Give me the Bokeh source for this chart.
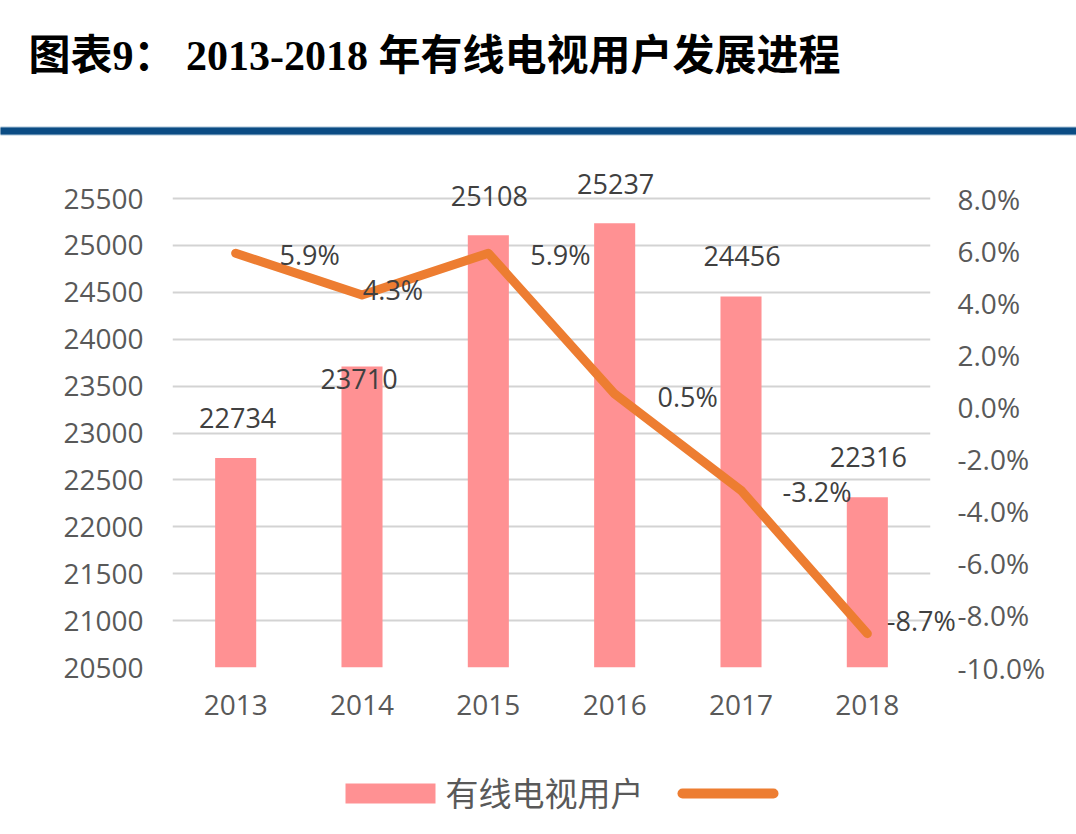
from bokeh.plotting import figure
from bokeh.models import (ColumnDataSource, Range1d, FactorRange, LinearAxis, FixedTicker,
                          PrintfTickFormatter, NumeralTickFormatter)
from bokeh.core.properties import value
from bokeh.embed import file_html
from bokeh.resources import INLINE

# ---- data -------------------------------------------------------------
years = ["2013", "2014", "2015", "2016", "2017", "2018"]
users = [22734, 23710, 25108, 25237, 24456, 22316]          # 有线电视用户 (万户)
growth = [5.9, 4.3, 5.9, 0.5, -3.2, -8.7]                    # 同比增速 (%)

user_ticks = [20500, 21000, 21500, 22000, 22500, 23000, 23500, 24000, 24500, 25000, 25500]
growth_ticks = [-10, -8, -6, -4, -2, 0, 2, 4, 6, 8]

title_text = "图表9：  2013-2018 年有线电视用户发展进程"
legend_label = "有线电视用户"

# ---- label placement (screen pixels, +y is down) -------------------------
user_label_dx = [2, -3, 1, 1, 1, 1]
user_label_dy = [-40, 13, -39, -39, -40, -40]
growth_label_dx = [74, 31, 72, 73, 76, 54]
growth_label_dy = [1, -5, 1, 3, 1, -13]

SANS = "'Open Sans', 'Noto Sans CJK SC', sans-serif"
SERIF_CJK = "'Liberation Serif', 'Noto Sans CJK SC', serif"
AXIS_GRAY = "#595959"
LABEL_GRAY = "#404040"
BAR_PINK = "#FF9193"
LINE_ORANGE = "#ED7D31"
RULE_BLUE = "#0B4C84"
RULE_EDGE = "#A9C3D8"

# ---- page geometry ------------------------------------------------------
W, H = 1076, 834
BORDER_L, BORDER_R, BORDER_T, BORDER_B = 172, 146, 134, 167
GRID_SPAN_PX = 469          # pixel distance between the lowest and highest gridline

frame_w = W - BORDER_L - BORDER_R
frame_h = H - BORDER_T - BORDER_B
user_span = user_ticks[-1] - user_ticks[0]
user_per_px = user_span / GRID_SPAN_PX
user_top = user_ticks[0] + frame_h * user_per_px
pct_span = growth_ticks[-1] - growth_ticks[0]
pct_top = growth_ticks[0] + pct_span * (user_top - user_ticks[0]) / user_span
cat_px = frame_w / len(years)


def page_x(px):
    """Page column -> synthetic categorical x (one unit per year)."""
    return (px - BORDER_L) / cat_px


def page_y(py):
    """Page row -> value on the user axis."""
    return user_top - (py - BORDER_T) * user_per_px


src = ColumnDataSource(dict(
    year=years,
    users=users,
    growth=growth,
    user_text=[str(v) for v in users],
    growth_text=[f"{v:.1f}%" for v in growth],
    udx=user_label_dx, udy=user_label_dy,
    gdx=growth_label_dx, gdy=growth_label_dy,
))

p = figure(width=W, height=H, x_range=FactorRange(*years),
           y_range=Range1d(user_ticks[0], user_top),
           toolbar_location=None, output_backend="svg",
           min_border_left=BORDER_L, min_border_right=BORDER_R,
           min_border_top=BORDER_T, min_border_bottom=BORDER_B)
p.outline_line_color = None
p.xgrid.visible = False
p.ygrid.grid_line_color = "#D3D3D3"
p.ygrid.grid_line_width = 2

p.extra_y_ranges = {"pct": Range1d(growth_ticks[0], pct_top)}

# bars and growth line
bars = p.vbar(x="year", top="users", bottom=user_ticks[0], width=0.325, source=src,
              fill_color=BAR_PINK, line_color=None)
ln = p.line(x="year", y="growth", source=src, y_range_name="pct",
            line_color=LINE_ORANGE, line_width=9, line_cap="round", line_join="round")

# value labels
p.text(x="year", y="users", text="user_text", source=src, x_offset="udx", y_offset="udy",
       text_align="center", text_baseline="middle", text_font=value(SANS),
       text_font_size="27px", text_color=LABEL_GRAY, level="overlay")
p.text(x="year", y="growth", text="growth_text", source=src, y_range_name="pct",
       x_offset="gdx", y_offset="gdy", text_align="center", text_baseline="middle",
       text_font=value(SANS), text_font_size="27px", text_color=LABEL_GRAY,
       level="overlay")

# title and the blue rule under it
p.text(x=[page_x(28)], y=[page_y(55)], text=[title_text], text_align="left",
       text_baseline="middle", text_font=value(SERIF_CJK), text_font_size="42px",
       text_font_style="bold", text_color="black", level="overlay")
rule_x = [page_x(0), page_x(W)]
rule_y = [page_y(130.5)] * 2
p.line(x=rule_x, y=rule_y, line_color=RULE_EDGE, line_width=9, level="overlay")
p.line(x=rule_x, y=rule_y, line_color=RULE_BLUE, line_width=7, level="overlay")

# legend row under the category axis
p.quad(left=[page_x(345)], right=[page_x(435)], top=[page_y(783)], bottom=[page_y(803)],
       fill_color=BAR_PINK, line_color=None, level="overlay")
p.text(x=[page_x(445)], y=[page_y(793)], text=[legend_label], text_align="left",
       text_baseline="middle", text_font=value(SANS), text_font_size="33px",
       text_color=AXIS_GRAY, level="overlay")
p.line(x=[page_x(682), page_x(773)], y=[page_y(793)] * 2, line_color=LINE_ORANGE,
       line_width=10, line_cap="round", level="overlay")

# axes
bottom = p.xaxis[0]
bottom.major_label_standoff = 27

left = p.yaxis[0]
left.ticker = FixedTicker(ticks=user_ticks)
left.formatter = NumeralTickFormatter(format="0")
left.major_label_standoff = 29

right = LinearAxis(y_range_name="pct", ticker=FixedTicker(ticks=growth_ticks),
                   formatter=PrintfTickFormatter(format="%.1f%%"), major_label_standoff=27)
p.add_layout(right, "right")

for ax in (left, right, bottom):
    ax.axis_line_color = None
    ax.major_tick_line_color = None
    ax.minor_tick_line_color = None
    ax.major_tick_out = 0
    ax.major_label_text_font = SANS
    ax.major_label_text_font_size = "28px"
    ax.major_label_text_color = AXIS_GRAY

open("out.html", "w").write(file_html(p, INLINE))
